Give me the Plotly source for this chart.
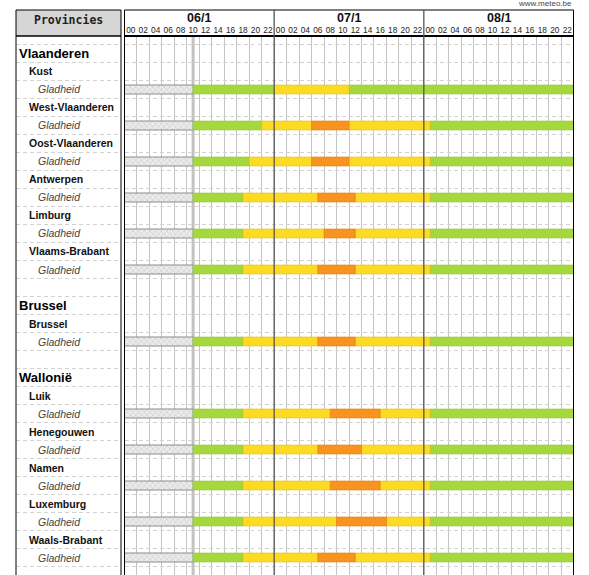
import plotly.graph_objects as go

W, H = 589, 575

# ---------------- data ----------------
regions = ["Vlaanderen", "Brussel", "Wallonië"]
region_provinces = [
    ["Kust", "West-Vlaanderen", "Oost-Vlaanderen", "Antwerpen", "Limburg", "Vlaams-Brabant"],
    ["Brussel"],
    ["Luik", "Henegouwen", "Namen", "Luxemburg", "Waals-Brabant"],
]
hazard_label = "Gladheid"

day_labels = ["06/1", "07/1", "08/1"]
hour_labels = ["00", "02", "04", "06", "08", "10", "12", "14", "16", "18", "20", "22"] * 3
total_hours = 72
now_hour = 11

# per province (order as above): hour where warning levels change
yellow_start = [24, 22, 20, 19, 19, 19, 19, 19, 19, 19, 19, 19]
orange_start = [None, 30, 30, 31, 32, 31, 31, 33, 31, 33, 34, 31]
orange_end = [None, 36, 36, 37, 37, 37, 37, 41, 38, 41, 42, 37]
yellow_end = [36, 49, 49, 49, 49, 49, 49, 49, 49, 49, 49, 49]

GREEN, YELLOW, ORANGE = "#a4d83c", "#fcdb22", "#f7931e"

# ---------------- rows ----------------
rows = []  # (text, kind)
for r, provs in zip(regions, region_provinces):
    rows.append((r, "region"))
    for p in provs:
        rows.append((p, "province"))
        rows.append((hazard_label, "hazard"))
    rows.append(("", "blank"))
n_rows = len(rows)
hazard_rows = [i for i, (t, k) in enumerate(rows) if k == "hazard"]

# pixel geometry of the frame
X0, X1 = 124.5, 573.5
LX0, LX1 = 16, 121
TOP, HDR = 10, 36
ROW_PX, ROW0_PX = 18, 53.5

fig = go.Figure()

segs = {"past": ([], [], []), "green": ([], [], []), "yellow": ([], [], []), "orange": ([], [], [])}


def add(kind, y, a, b):
    if b > a:
        segs[kind][0].append(y)
        segs[kind][1].append(a)
        segs[kind][2].append(b - a)


for k, y in enumerate(hazard_rows):
    add("past", y, 0, now_hour)
    add("green", y, now_hour, yellow_start[k])
    if orange_start[k] is None:
        add("yellow", y, yellow_start[k], yellow_end[k])
    else:
        add("yellow", y, yellow_start[k], orange_start[k])
        add("orange", y, orange_start[k], orange_end[k])
        add("yellow", y, orange_end[k], yellow_end[k])
    add("green", y, yellow_end[k], total_hours)

styles = {
    "past": dict(color="#e6e6e6", line=dict(color="#8c8c8c", width=1),
                 pattern=dict(shape="x", fgcolor="#b0b0b0", bgcolor="#ebebeb", size=4, solidity=0.3)),
    "green": dict(color=GREEN, line=dict(color="#95c932", width=0.6)),
    "yellow": dict(color=YELLOW, line=dict(color="#e8bf10", width=0.6)),
    "orange": dict(color=ORANGE, line=dict(color="#e8820c", width=0.6)),
}
for kind in ["past", "green", "yellow", "orange"]:
    ys, bases, lens = segs[kind]
    fig.add_trace(go.Bar(y=ys, x=lens, base=bases, orientation="h", width=0.5,
                         marker=styles[kind], xaxis="x", yaxis="y",
                         hoverinfo="skip", showlegend=False))

# empty trace so the label panel subplot exists
fig.add_trace(go.Scatter(x=[0], y=[0], mode="markers", marker=dict(opacity=0),
                         xaxis="x2", yaxis="y", hoverinfo="skip", showlegend=False))

# ---------------- annotations ----------------
ann = []
font_fam = "Liberation Sans, Arial, sans-serif"
for i, (t, k) in enumerate(rows):
    if not t:
        continue
    if k == "region":
        x, f = 0.6, dict(size=13, color="#000", family=font_fam, weight="bold")
    elif k == "province":
        x, f = 10.6, dict(size=10.5, color="#111", family=font_fam, weight="bold")
    else:
        x, f = 19.6, dict(size=10.5, color="#444", family=font_fam, style="italic")
    ann.append(dict(x=x, y=i, xref="x2", yref="y", text=t, showarrow=False,
                    xanchor="left", yanchor="middle", font=f))

for d, lab in enumerate(day_labels):
    ann.append(dict(x=24 * d + 12, y=1 - 18 / H, xref="x", yref="paper", text=lab,
                    showarrow=False, xanchor="center", yanchor="middle",
                    font=dict(size=12.5, family=font_fam, color="#111", weight="bold")))

ann.append(dict(x=(LX0 + LX1) / 2 / W, y=1 - 20 / H, xref="paper", yref="paper", text="Provincies",
                showarrow=False, xanchor="center", yanchor="middle",
                font=dict(size=11.5, family="DejaVu Sans Mono", color="#222", weight="bold")))
ann.append(dict(x=X1 / W, y=1 - 4 / H, xref="paper", yref="paper", text="www.meteo.be",
                showarrow=False, xanchor="right", yanchor="middle",
                font=dict(size=8, family=font_fam, color="#444")))

# ---------------- shapes ----------------
def py(px):
    return 1 - px / H


shapes = [
    dict(type="rect", xref="paper", yref="paper", x0=LX0 / W, x1=LX1 / W, y0=py(HDR), y1=py(TOP),
         fillcolor="#d6d6d6", line=dict(color="#000", width=1), layer="below"),
    dict(type="rect", xref="paper", yref="paper", x0=LX0 / W, x1=LX1 / W, y0=-0.02, y1=py(HDR),
         line=dict(color="#000", width=1)),
    dict(type="rect", xref="paper", yref="paper", x0=X0 / W, x1=X1 / W, y0=py(HDR), y1=py(TOP),
         line=dict(color="#000", width=1)),
    dict(type="rect", xref="paper", yref="paper", x0=X0 / W, x1=X1 / W, y0=-0.02, y1=py(HDR),
         line=dict(color="#000", width=1)),
    dict(type="line", xref="paper", yref="paper", x0=X0 / W, x1=X1 / W, y0=py(HDR), y1=py(HDR),
         line=dict(color="#000", width=2)),
    dict(type="line", xref="x", yref="paper", x0=now_hour, x1=now_hour, y0=-0.02, y1=py(HDR),
         line=dict(color="#c2c2c2", width=3), layer="between"),
]
for d in range(1, len(day_labels)):
    shapes.append(dict(type="line", xref="x", yref="paper", x0=24 * d, x1=24 * d, y0=-0.02, y1=py(TOP),
                       line=dict(color="#555", width=1.3)))

fig.update_layout(
    width=W, height=H, margin=dict(l=0, r=0, t=0, b=0),
    paper_bgcolor="white", plot_bgcolor="rgba(0,0,0,0)",
    barmode="overlay", showlegend=False, bargap=0,
    xaxis=dict(domain=[X0 / W, X1 / W], range=[0, total_hours], anchor="y", side="top",
               tickvals=[h + 1 for h in range(0, total_hours, 2)], ticktext=hour_labels,
               ticks="", showgrid=False, zeroline=False, showline=False, automargin=False,
               tickangle=0, ticklabelstandoff=0,
               tickfont=dict(size=8.3, color="#222", family=font_fam),
               minor=dict(tickvals=list(range(2, total_hours, 2)), showgrid=True,
                          gridcolor="#c4c4c4", gridwidth=1, griddash="solid", ticks=""),
               fixedrange=True),
    xaxis2=dict(domain=[LX0 / W, LX1 / W], range=[0, LX1 - LX0], anchor="y",
                showticklabels=False, showgrid=False, zeroline=False, showline=False, ticks=""),
    yaxis=dict(domain=[0, py(HDR)],
               range=[(H - ROW0_PX) / ROW_PX, (HDR - ROW0_PX) / ROW_PX],
               tickvals=[i - 0.5 for i in range(n_rows + 1)], showticklabels=False,
               showgrid=True, gridcolor="#d2d2d2", griddash="4px,3px", gridwidth=1,
               zeroline=False, showline=False, ticks="", automargin=False),
    annotations=ann, shapes=shapes,
)

fig.write_html("out.html", config={"displayModeBar": False, "staticPlot": True},
               post_script="document.body.style.margin='0';")
